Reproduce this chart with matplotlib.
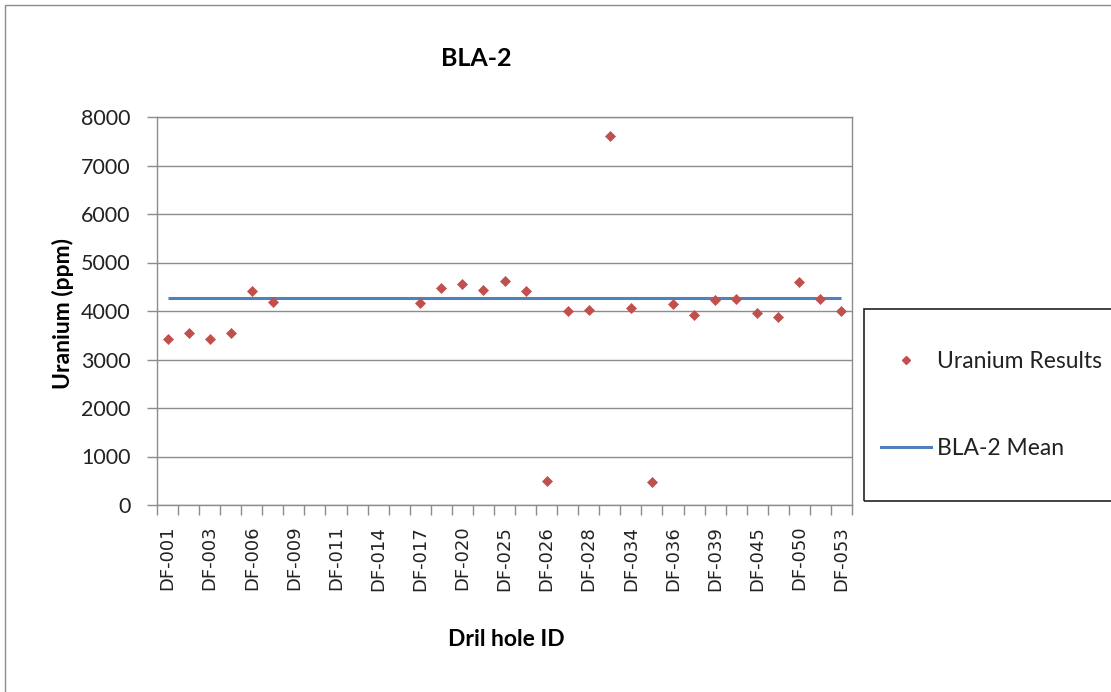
import matplotlib.pyplot as plt
from matplotlib.lines import Line2D
from matplotlib.patches import Rectangle

# drill hole IDs (only every other one is labelled on the axis)
holes = ['DF-001', 'DF-002', 'DF-003', 'DF-005', 'DF-006', 'DF-008',
         'DF-009', 'DF-010', 'DF-011', 'DF-012', 'DF-014', 'DF-016',
         'DF-017', 'DF-019', 'DF-020', 'DF-022', 'DF-025', 'DF-025A',
         'DF-026', 'DF-027', 'DF-028', 'DF-031', 'DF-034', 'DF-035',
         'DF-036', 'DF-037', 'DF-039', 'DF-042', 'DF-045', 'DF-047',
         'DF-050', 'DF-051', 'DF-053']

# uranium results (ppm), None = no result for that hole
uranium = [3420, 3550, 3420, 3550, 4410, 4190,
           None, None, None, None, None, None,
           4160, 4470, 4560, 4440, 4620, 4410,
           500, 4000, 4030, 7600, 4070, 480,
           4140, 3910, 4220, 4250, 3950, 3880,
           4600, 4250, 4000]

bla2_mean = 4270

W, H = 1111, 692
fig = plt.figure(figsize=(W / 100, H / 100), dpi=100)
ax = fig.add_axes([157 / W, 1 - 505 / H, (852 - 157) / W, (505 - 117) / H])

xs = [i for i, v in enumerate(uranium) if v is not None]
ys = [v for v in uranium if v is not None]

ax.plot([0, len(holes) - 1], [bla2_mean, bla2_mean], color='#4F81BD', lw=2.2,
        solid_capstyle='butt', zorder=2)
ax.plot(xs, ys, 'D', color='#C0504D', ms=4.8, mec='#C0504D', mew=0.5,
        linestyle='none', zorder=3)

ax.set_xlim(-0.5, len(holes) - 0.5)
ax.set_ylim(0, 8000)
ax.set_yticks(range(0, 8001, 1000))
ax.yaxis.grid(True, color='#8C8C8C', lw=1.0)
ax.set_axisbelow(True)

ax.set_xticks(range(0, len(holes), 2))
ax.set_xticklabels(holes[::2], rotation=90, fontsize=13, family='DejaVu Sans',
                   color='#222222')
ax.set_xticks([i - 0.5 for i in range(len(holes) + 1)], minor=True)
ax.tick_params(axis='x', which='major', length=0, pad=15)
ax.tick_params(axis='x', which='minor', length=7, width=1, color='#8C8C8C',
               direction='out')
ax.tick_params(axis='y', length=7, width=1, color='#8C8C8C', pad=12,
               labelsize=15.5, labelcolor='#222222')
for lab in ax.get_yticklabels():
    lab.set_family('Lato')

for s in ax.spines.values():
    s.set_color('#8C8C8C')
    s.set_linewidth(1)

# axis titles and chart title
fig.text(63 / W, 1 - 313 / H, 'Uranium (ppm)', family='Lato', fontweight='bold',
         fontsize=16.5, rotation=90, ha='center', va='center')
fig.text(506 / W, 1 - 640 / H, 'Dril hole ID', family='Lato', fontweight='bold',
         fontsize=16.5, ha='center', va='center')
fig.text(476 / W, 1 - 59 / H, 'BLA-2', family='Lato', fontweight='bold',
         fontsize=18, ha='center', va='center')

# legend: box runs off the right side of the picture
handles = [Line2D([], [], marker='D', color='#C0504D', ms=3.8, linestyle='none'),
           Line2D([], [], color='#4F81BD', lw=2.2)]
leg = fig.legend(handles, ['Uranium Results', 'BLA-2 Mean'],
                 loc='center left', bbox_to_anchor=(881 / W, 1 - 405 / H),
                 frameon=False, prop={'family': 'Lato', 'size': 16.5},
                 labelspacing=2.85, handlelength=2.2, handletextpad=0.25,
                 borderpad=0, borderaxespad=0)
for t in leg.get_texts():
    t.set_color('#222222')
fig.patches.append(Rectangle((864 / W, 1 - 501 / H), 1, 192 / H,
                             transform=fig.transFigure, fill=False,
                             edgecolor='#222222', lw=1.2))

# outer chart border (only left and top edges are in view)
fig.patches.append(Rectangle((5 / W, -1), 2, 2 - 5 / H, transform=fig.transFigure,
                             fill=False, edgecolor='#8C8C8C', lw=1))

fig.savefig('out.png', dpi=100)
